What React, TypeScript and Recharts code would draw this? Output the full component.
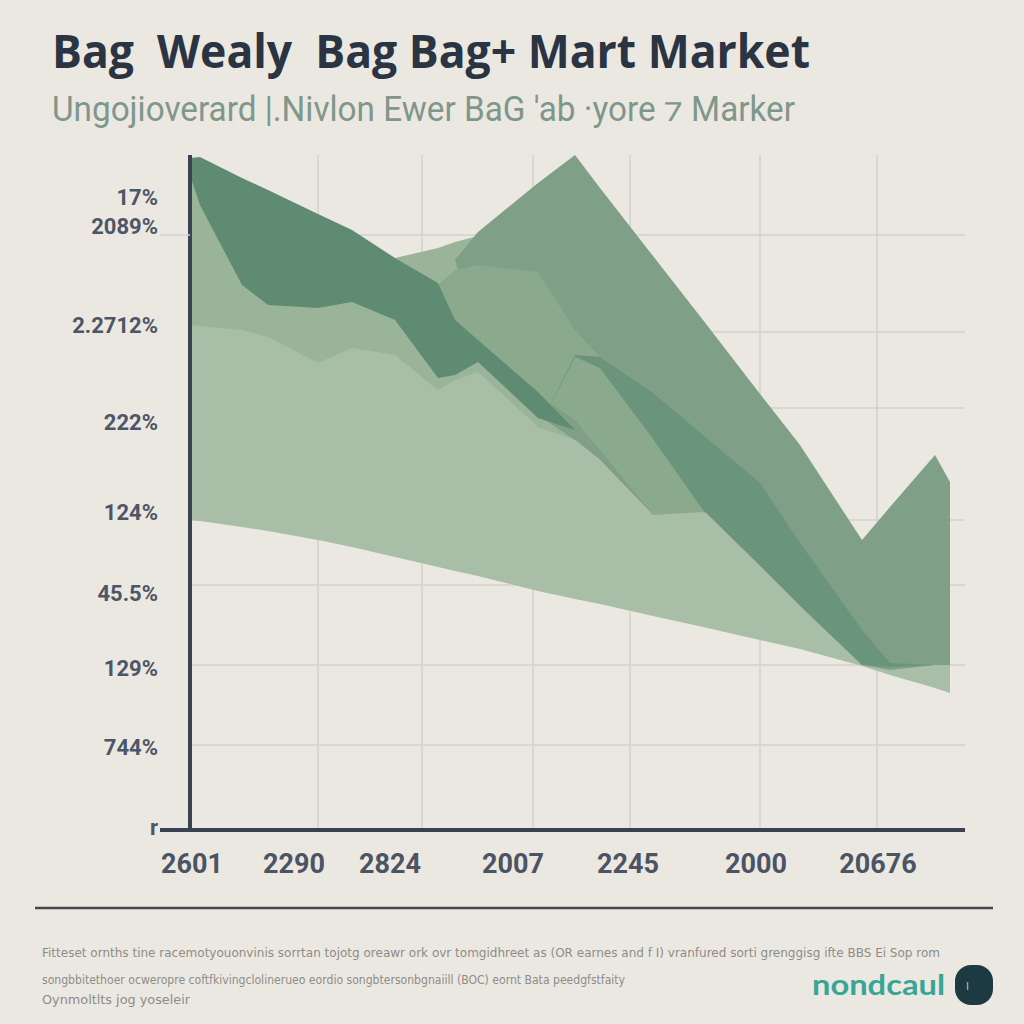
import { ComposedChart, Area, XAxis, YAxis, CartesianGrid } from 'recharts'

// x positions of the vertices shared by every layer (chart units)
const xPos = [0, 1, 5.2, 7.8, 12.8, 16.2, 20.5, 24.8, 26.5, 28.8, 34.8, 38.5, 41, 46.3, 51.3, 57, 61, 67.2, 70, 74.5, 76]

// each layer is a band [low, high]
const baseLow = [31.0, 30.9, 30.3, 29.9, 29.0, 28.3, 27.3, 26.3, 25.9, 25.4, 23.9, 23.1, 22.6, 21.4, 20.3, 19.0, 18.1, 16.4, 15.5, 14.2, 13.7]
const baseHigh = [51.5, 51.4, 51.0, 50.3, 47.7, 49.2, 48.5, 45.0, 46.0, 46.8, 41.3, 39.0, 37.0, 31.5, 32.0, 26.4, 22.4, 16.7, 16.5, 16.5, 16.5]

const midLow = [50.5, 50.4, 50.0, 49.3, 46.7, 48.2, 47.5, 44.0, 45.0, 45.8, 40.3, 39.0, 37.0, 31.5, 32.0, 26.4, 22.4, 16.7, 16.5, 16.5, 16.5]
const midHigh = [67.0, 66.0, 58.0, 57.0, 55.5, 55.5, 57.2, 58.2, 58.8, 59.4, 53.0, 39.0, 37.0, 31.5, 32.0, 26.4, 22.4, 16.7, 16.5, 16.5, 16.5]

const peakLow = [54, 54, 54, 54, 54, 54, 54, 54, 57, 49.0, 41.5, 39.0, 37.0, 31.5, 32.0, 27.0, 23.0, 16.5, 16.0, 16.5, 16.5]
const peakHigh = [54, 54, 54, 54, 54, 54, 54, 54, 57, 59.8, 64.7, 67.5, 64.2, 57.4, 51.0, 43.6, 38.5, 29.0, 32.3, 37.5, 34.8]

const medLow = [54.5, 54.5, 54.5, 54.5, 54.5, 54.5, 54.5, 54.5, 49.0, 48.5, 43.5, 41.0, 38.0, 31.5, 31.8, 30, 20, 20, 20, 20, 20]
const medHigh = [54.5, 54.5, 54.5, 54.5, 54.5, 54.5, 54.5, 54.5, 56.0, 56.5, 55.8, 50.0, 47.3, 43.5, 39.0, 30, 20, 20, 20, 20, 20]

const darkLeftLow = [65.5, 62.5, 54.5, 52.5, 52.2, 52.8, 51.0, 45.2, 45.5, 46.8, 41.2, 40, 40, 40, 40, 40, 40, 40, 40, 40, 40]
const darkLeftHigh = [67.2, 67.3, 65.2, 64.0, 61.6, 60.0, 57.2, 54.7, 51.0, 49.0, 43.8, 40, 40, 40, 40, 40, 40, 40, 40, 40, 40]

const darkRightLow = [40, 40, 40, 40, 40, 40, 40, 40, 40, 40, 40, 47.3, 46.2, 39.1, 32.0, 26.4, 22.4, 16.5, 16.3, 16.5, 16.5]
const darkRightHigh = [40, 40, 40, 40, 40, 40, 40, 40, 40, 40, 40, 47.5, 47.3, 43.7, 39.5, 34.7, 28.7, 20.0, 16.7, 16.5, 16.5]

const xTicks = [0.2, 10.4, 20, 32.3, 43.8, 56.6, 68.8]
const xLabels = ['2601', '2290', '2824', '2007', '2245', '2000', '20676']

const yTicks = [63.3, 60.4, 50.5, 40.8, 31.8, 23.7, 16.2, 8.3, 0.3]
const yLabels = ['17%', '2089%', '2.2712%', '222%', '124%', '45.5%', '129%', '744%', 'r']

const gridY = [59.5, 49.8, 42.2, 31, 24.5, 16.5, 8.5]
const gridX = [12.8, 23.2, 34.3, 44, 57, 68.7]

const layers = [
  { key: 'base', low: baseLow, high: baseHigh, color: '#a9bea7' },
  { key: 'mid', low: midLow, high: midHigh, color: '#9ab49a' },
  { key: 'peak', low: peakLow, high: peakHigh, color: '#7f9f87' },
  { key: 'med', low: medLow, high: medHigh, color: '#8ba98c' },
  { key: 'darkLeft', low: darkLeftLow, high: darkLeftHigh, color: '#5f8b73' },
  { key: 'darkRight', low: darkRightLow, high: darkRightHigh, color: '#6b947c' },
]

const data = xPos.map((x, i) => {
  const row: Record<string, number | number[]> = { x }
  layers.forEach((l) => { row[l.key] = [l.low[i], l.high[i]] })
  return row
})

export default function App() {
  return (
    <div style={{ position: 'relative', width: 1024, height: 1024, background: '#ebe8e1', overflow: 'hidden' }}>
      <style>{'body{margin:0}'}</style>
      <ComposedChart
        width={1024}
        height={1024}
        data={data}
        margin={{ top: 155, right: 59, bottom: 134, left: 90 }}
        style={{ position: 'absolute', left: 0, top: 0 }}
      >
        <CartesianGrid
          stroke="#d5d2cc"
          strokeWidth={1.5}
          horizontalValues={gridY}
          verticalValues={gridX}
        />
        <XAxis
          type="number"
          dataKey="x"
          domain={[0, 77.5]}
          allowDataOverflow
          ticks={xTicks}
          tickFormatter={(v: number) => xLabels[xTicks.indexOf(v)] ?? ''}
          height={60}
          tickLine={false}
          tickMargin={18}
          axisLine={{ stroke: '#3a4150', strokeWidth: 4 }}
          tick={{ fill: '#4b5462', fontSize: 27, fontWeight: 700, fontFamily: 'Roboto' }}
          interval={0}
        />
        <YAxis
          type="number"
          domain={[0, 67.5]}
          allowDataOverflow
          ticks={yTicks}
          tickFormatter={(v: number) => yLabels[yTicks.indexOf(v)] ?? ''}
          width={100}
          tickLine={false}
          tickMargin={26}
          axisLine={{ stroke: '#3a4150', strokeWidth: 4 }}
          tick={{ fill: '#4d5667', fontSize: 22, fontWeight: 700, fontFamily: 'Roboto' }}
          interval={0}
        />
        {layers.map((l) => (
          <Area
            key={l.key}
            type="linear"
            dataKey={l.key}
            stroke="none"
            fill={l.color}
            fillOpacity={1}
            dot={false}
            activeDot={false}
            isAnimationActive={false}
          />
        ))}
      </ComposedChart>

      <svg width={1024} height={1024} style={{ position: 'absolute', left: 0, top: 0, pointerEvents: 'none' }}>
        <text x={52} y={68} fontSize={47} fontWeight={700} fontFamily="Open Sans" fill="#2a3443"
          textLength={758} lengthAdjust="spacingAndGlyphs" style={{ whiteSpace: 'pre' }}>
          {'Bag  Wealy  Bag Bag+ Mart Market'}
        </text>
        <text x={52} y={121} fontSize={35} fontFamily="Roboto" fill="#7f978b"
          textLength={743} lengthAdjust="spacingAndGlyphs">
          Ungojioverard |.Nivlon Ewer BaG 'ab ·yore ⁊ Marker
        </text>

        <line x1={160} x2={190} y1={235} y2={235} stroke="#d5d2cc" strokeWidth={1.5} />
        <line x1={160} x2={190} y1={830} y2={830} stroke="#3a4150" strokeWidth={4} />

        <line x1={35} x2={993} y1={908} y2={908} stroke="#43464b" strokeWidth={2.5} />

        <text x={42} y={957} fontSize={13} fontFamily="DejaVu Sans" fill="#8d8c88"
          textLength={898} lengthAdjust="spacingAndGlyphs">
          Fitteset ornths tine racemotyouonvinis sorrtan tojotg oreawr ork ovr tomgidhreet as (OR earnes and f I) vranfured sorti grenggisg ifte BBS Ei Sop rom
        </text>
        <text x={42} y={984} fontSize={13} fontFamily="DejaVu Sans" fill="#8d8c88"
          textLength={583} lengthAdjust="spacingAndGlyphs">
          songbbitethoer ocweropre coftfkivingclolinerueo eordio songbtersonbgnaiill (BOC) eornt Bata peedgfstfaity
        </text>
        <text x={42} y={1004} fontSize={13} fontFamily="DejaVu Sans" fill="#8d8c88"
          textLength={148} lengthAdjust="spacingAndGlyphs">
          Oynmoltlts jog yoseleir
        </text>

        <text x={812} y={995} fontSize={28} fontWeight={700} fontFamily="Lato" fill="#39a597"
          textLength={133} lengthAdjust="spacingAndGlyphs">
          nondcaul
        </text>
        <rect x={955} y={965} width={38} height={40} rx={16} fill="#1d3a42" />
        <text x={966} y={990} fontSize={11} fontFamily="DejaVu Sans" fill="#b8c2c4">l</text>
      </svg>
    </div>
  )
}
